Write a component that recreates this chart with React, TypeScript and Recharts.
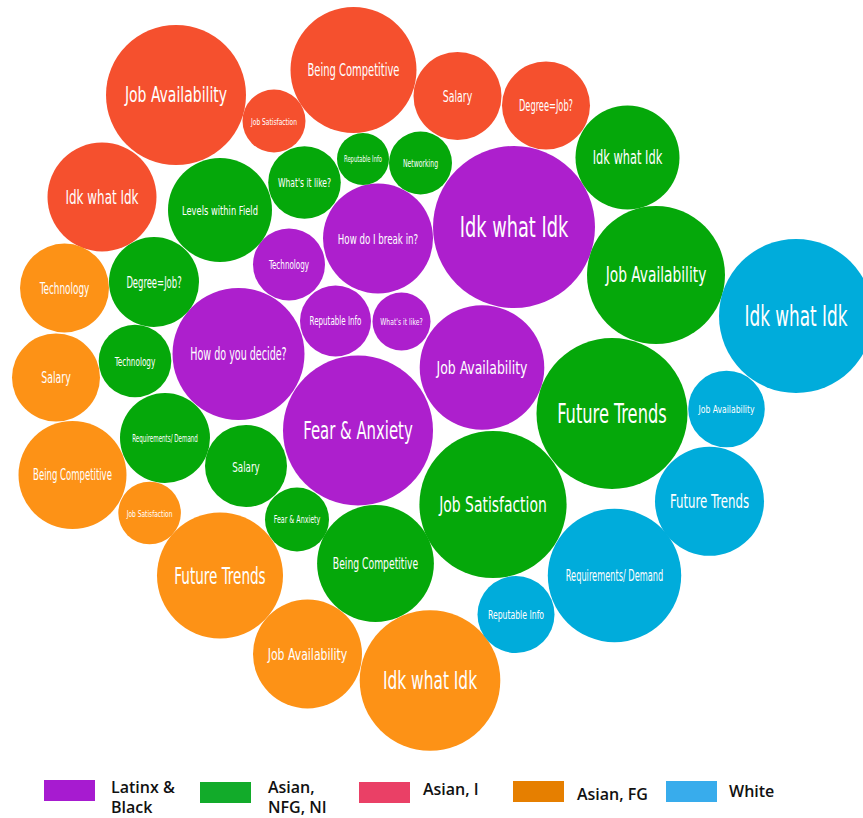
import { ScatterChart, Scatter, XAxis, YAxis, ZAxis } from "recharts";

// bubble: label, centre x / y (chart units), radius (chart units)
type Bubble = { label: string; x: number; y: number; size: number };

const latinxBlack: Bubble[] = [
  { label: "Idk what Idk", x: 514, y: 227, size: 81 },
  { label: "How do I break in?", x: 378, y: 238.5, size: 55 },
  { label: "Technology", x: 289, y: 264.5, size: 36 },
  { label: "Reputable Info", x: 335.5, y: 321, size: 35.5 },
  { label: "What's it like?", x: 401.5, y: 321.5, size: 29 },
  { label: "How do you decide?", x: 238.5, y: 354, size: 66 },
  { label: "Fear & Anxiety", x: 358, y: 430.5, size: 75 },
  { label: "Job Availability", x: 482, y: 367.5, size: 62.3 },
];

const asianNfgNi: Bubble[] = [
  { label: "Levels within Field", x: 220, y: 210, size: 52 },
  { label: "What's it like?", x: 304.5, y: 182.5, size: 36.3 },
  { label: "Reputable Info", x: 363, y: 159, size: 26 },
  { label: "Networking", x: 420.5, y: 163, size: 31.5 },
  { label: "Idk what Idk", x: 627.5, y: 157.5, size: 52 },
  { label: "Job Availability", x: 656, y: 275, size: 69 },
  { label: "Degree=Job?", x: 154, y: 282, size: 45 },
  { label: "Technology", x: 135, y: 361, size: 36.3 },
  { label: "Requirements/ Demand", x: 165, y: 438, size: 45 },
  { label: "Salary", x: 246, y: 466, size: 41 },
  { label: "Fear & Anxiety", x: 297, y: 519.5, size: 32 },
  { label: "Being Competitive", x: 375.5, y: 563.5, size: 58.4 },
  { label: "Job Satisfaction", x: 493, y: 504.5, size: 73.6 },
  { label: "Future Trends", x: 612, y: 413.5, size: 75.5 },
];

const asianI: Bubble[] = [
  { label: "Job Availability", x: 176, y: 95, size: 70 },
  { label: "Job Satisfaction", x: 274, y: 121, size: 31.5 },
  { label: "Being Competitive", x: 353.5, y: 70, size: 63 },
  { label: "Salary", x: 457.5, y: 96, size: 44 },
  { label: "Degree=Job?", x: 546, y: 105.5, size: 44 },
  { label: "Idk what Idk", x: 102, y: 197, size: 54.5 },
];

const asianFg: Bubble[] = [
  { label: "Technology", x: 64.5, y: 288, size: 44.5 },
  { label: "Salary", x: 56, y: 377.5, size: 44 },
  { label: "Being Competitive", x: 72.5, y: 475, size: 54 },
  { label: "Job Satisfaction", x: 149.6, y: 513, size: 31.3 },
  { label: "Future Trends", x: 220, y: 575.5, size: 63 },
  { label: "Job Availability", x: 307.5, y: 654, size: 54.5 },
  { label: "Idk what Idk", x: 430, y: 680.5, size: 70.3 },
];

const white: Bubble[] = [
  { label: "Idk what Idk", x: 796, y: 316, size: 77 },
  { label: "Job Availability", x: 726.5, y: 409, size: 38.3 },
  { label: "Future Trends", x: 709.5, y: 501.3, size: 54.5 },
  { label: "Requirements/ Demand", x: 614.5, y: 575.5, size: 66.7 },
  { label: "Reputable Info", x: 516, y: 614.5, size: 38.5 },
];

const groups = [
  { name: "Latinx & Black", lines: ["Latinx &", "Black"], data: latinxBlack, fill: "#ad1fcd", swatch: "#a71bd0" },
  { name: "Asian, NFG, NI", lines: ["Asian,", "NFG, NI"], data: asianNfgNi, fill: "#05a80a", swatch: "#12ab2a" },
  { name: "Asian, I", lines: ["Asian, I"], data: asianI, fill: "#f5502e", swatch: "#ea4066" },
  { name: "Asian, FG", lines: ["Asian, FG"], data: asianFg, fill: "#fd9216", swatch: "#e67f00" },
  { name: "White", lines: ["White"], data: white, fill: "#00acdb", swatch: "#38acec" },
];

const W = 863;
const H = 760;
const MAX_R = 100;

const BubbleShape = (props: any) => {
  const { cx, cy, width, payload, fill } = props;
  const r = width / 2;
  const label: string = payload.label;
  const n = label.length;
  const ratio = 0.31;
  const fontSize = Math.min(r * 0.36, (1.46 * r) / (n * ratio));
  const textLen = n * ratio * fontSize;
  return (
    <g>
      <circle cx={cx} cy={cy} r={r} fill={fill} />
      <text
        x={cx}
        y={cy}
        fill="#fff"
        textAnchor="middle"
        dominantBaseline="central"
        fontSize={fontSize}
        textLength={textLen}
        lengthAdjust="spacingAndGlyphs"
        fontFamily="'Liberation Sans Narrow', 'DejaVu Sans Condensed', sans-serif"
      >
        {label}
      </text>
    </g>
  );
};

const legendPos = [
  { left: 44, top: 780, textLeft: 111, textTop: 777 },
  { left: 200, top: 782, textLeft: 268, textTop: 777 },
  { left: 359, top: 782, textLeft: 423, textTop: 779 },
  { left: 513, top: 781, textLeft: 577, textTop: 784 },
  { left: 666, top: 781, textLeft: 729, textTop: 781 },
];

export default function App() {
  return (
    <div style={{ position: "absolute", left: 0, top: 0, width: W, height: 818, background: "#fff", overflow: "hidden" }}>
      <ScatterChart width={W} height={H} margin={{ top: 0, right: 0, bottom: 0, left: 0 }}>
        <XAxis type="number" dataKey="x" domain={[0, W]} hide />
        <YAxis type="number" dataKey="y" domain={[0, H]} reversed hide />
        <ZAxis type="number" dataKey="z" domain={[0, MAX_R * MAX_R]} range={[0, Math.PI * MAX_R * MAX_R]} />
        {groups.map((g) => (
          <Scatter
            key={g.name}
            name={g.name}
            data={g.data.map((b) => ({ ...b, z: b.size * b.size }))}
            fill={g.fill}
            shape={BubbleShape}
            isAnimationActive={false}
          />
        ))}
      </ScatterChart>
      {groups.map((g, i) => (
        <div key={g.name}>
          <div
            style={{
              position: "absolute",
              left: legendPos[i].left,
              top: legendPos[i].top,
              width: 51,
              height: 21,
              background: g.swatch,
            }}
          />
          <div
            style={{
              position: "absolute",
              left: legendPos[i].textLeft,
              top: legendPos[i].textTop,
              fontFamily: "'Open Sans', sans-serif",
              fontWeight: 600,
              fontSize: 16,
              lineHeight: "20px",
              color: "#111",
            }}
          >
            {g.lines.map((l) => (
              <div key={l}>{l}</div>
            ))}
          </div>
        </div>
      ))}
    </div>
  );
}
